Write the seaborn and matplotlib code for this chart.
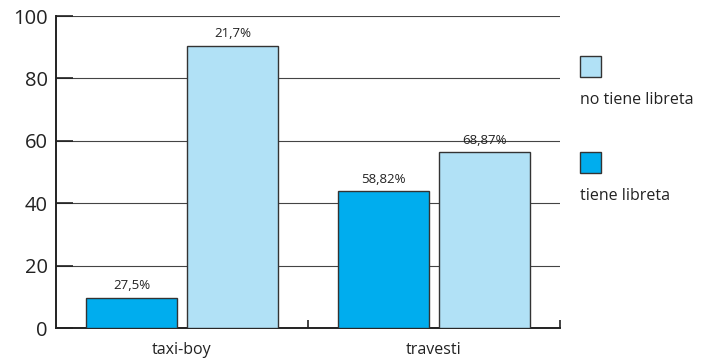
import pandas as pd
import matplotlib
matplotlib.use("Agg")
import matplotlib.pyplot as plt
from matplotlib.patches import Rectangle
import seaborn as sns

# values
grupos = ["taxi-boy", "travesti"]
tiene = [9.7, 43.8]
no_tiene = [90.5, 56.3]
etiquetas_tiene = ["27,5%", "58,82%"]
etiquetas_no_tiene = ["21,7%", "68,87%"]
series = ["tiene libreta", "no tiene libreta"]
y_ticks = [0, 20, 40, 60, 80, 100]

col_tiene = "#00adee"
col_no = "#b1e1f6"
edge = "#333333"
txt = "#222222"

df = pd.DataFrame({
    "grupo": grupos * 2,
    "estado": [series[0]] * 2 + [series[1]] * 2,
    "valor": tiene + no_tiene,
})

sns.set_style("white")
plt.rcParams["font.family"] = ["Open Sans", "DejaVu Sans"]

fig = plt.figure(figsize=(7.04, 3.63), dpi=100)
ax = fig.add_axes([56 / 704, 35 / 363, 504 / 704, 312 / 363])

sns.barplot(data=df, x="grupo", y="valor", hue="estado", hue_order=series,
            palette=[col_tiene, col_no], width=0.8, gap=0.1,
            edgecolor=edge, linewidth=1.0, saturation=1, legend=False, ax=ax, zorder=3)

ax.bar_label(ax.containers[0], labels=etiquetas_tiene, padding=4, fontsize=9.5, color=txt)
ax.bar_label(ax.containers[1], labels=etiquetas_no_tiene, padding=4, fontsize=9.5, color=txt)

ax.set_xlim(-0.5, 1.5)
ax.set_ylim(0, 100)
ax.set_yticks(y_ticks)
ax.yaxis.grid(True, color="#444444", linewidth=0.8, zorder=0)
ax.set_axisbelow(True)
ax.tick_params(axis="y", which="both", left=True, direction="in", length=12, width=1.2,
               color=txt, labelsize=14.5, pad=6, labelcolor=txt)
ax.tick_params(axis="x", which="major", bottom=True, length=0, labelsize=11.5, pad=10,
               labelcolor=txt)
ax.set_xticks([0.5, 1.5], minor=True)
ax.tick_params(axis="x", which="minor", bottom=True, direction="in", length=6, width=1.2,
               color=txt)
ax.set_xlabel("")
ax.set_ylabel("")
for s in ["top", "right"]:
    ax.spines[s].set_visible(False)
for s in ["left", "bottom"]:
    ax.spines[s].set_color(txt)
    ax.spines[s].set_linewidth(1.4)

# legend: square with label below
leg_items = [(series[1], col_no, 56), (series[0], col_tiene, 152)]
for label, col, ytop in leg_items:
    fig.add_artist(Rectangle((580 / 704, 1 - (ytop + 21) / 363), 21 / 704, 21 / 363,
                             transform=fig.transFigure, facecolor=col, edgecolor=edge, linewidth=1.0))
    fig.text(580 / 704, 1 - (ytop + 44) / 363, label, fontsize=11.5, color=txt,
             ha="left", va="center")

fig.savefig("out.png", dpi=100)
